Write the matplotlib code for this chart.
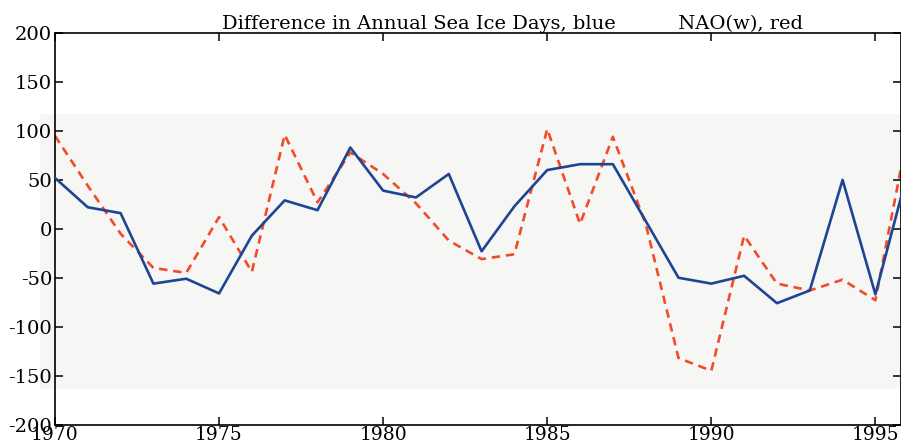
import matplotlib
matplotlib.use('Agg')
import matplotlib.pyplot as plt
from matplotlib.patches import Rectangle
import numpy as np

years = np.arange(1970, 1997)

# difference in annual sea ice days (blue)
ice_days = [52, 22, 16, -56, -51, -66, -7, 29, 19, 83, 39, 32, 56, -23, 23,
            60, 66, 66, 8, -50, -56, -48, -76, -63, 50, -67, 60]

# winter NAO index, scaled (red)
nao_w = [95, 44, -5, -40, -45, 12, -44, 96, 27, 78, 56, 26, -12, -31, -26,
         102, 5, 94, 5, -132, -145, -7, -56, -63, -52, -73, 100]

plt.rcParams['font.family'] = 'DejaVu Serif'
plt.rcParams['axes.unicode_minus'] = False

fig = plt.figure(figsize=(9.01, 4.46), dpi=100)
fig.patch.set_facecolor('white')

# faint grey band behind the middle of the plot
band = Rectangle((0.044, 0.128), 0.956, 0.616, transform=fig.transFigure,
                 facecolor='#f6f6f5', edgecolor='none', zorder=-5)
fig.add_artist(band)

ax = fig.add_axes([0.061, 0.048, 0.939, 0.878])
ax.set_facecolor('none')
ax.set_zorder(2)

ax.plot(years, ice_days, '-', color='#1d4592', lw=1.9, zorder=3)
ax.plot(years, nao_w, '--', color='#f24b2a', lw=1.9, dashes=(3.2, 2.2), zorder=2)

ax.set_xlim(1970, 1995.78)
ax.set_ylim(-200, 200)
ax.set_xticks(np.arange(1970, 1996, 5))
ax.set_yticks(np.arange(-200, 201, 50))

ax.tick_params(direction='in', length=6, width=1.1, labelsize=14,
               top=True, right=True, pad=2)
ax.tick_params(axis='x', pad=1, labelsize=13.5)
for s in ax.spines.values():
    s.set_linewidth(1.2)

ax.set_title('Difference in Annual Sea Ice Days, blue          NAO(w), red',
             fontsize=14, pad=3, x=0.541)

plt.savefig('out.png', dpi=100)
